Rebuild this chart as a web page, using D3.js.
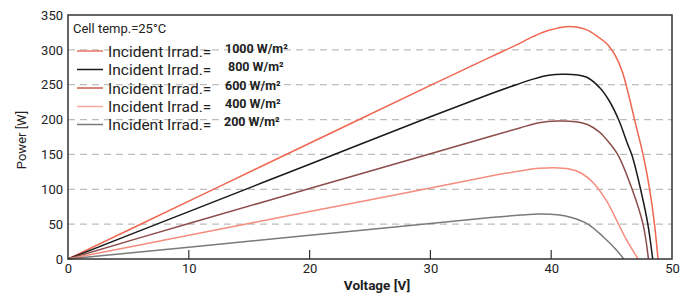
<!DOCTYPE html>
<html lang="en">
<head>
    <meta charset="UTF-8">
    <title>PV Power vs Voltage</title>
    <script src="https://d3js.org/d3.v7.min.js"></script>
    <style>
        body { margin: 0; background: #fff; }
        text { font-family: Roboto, "Liberation Sans", sans-serif; fill: #222; }
    </style>
</head>
<body>
    <div id="chart"></div>

    <script>
        // Irradiance levels and colours (legend order)
        var irradLabels = ["1000 W/m²", "800 W/m²", "600 W/m²", "400 W/m²", "200 W/m²"];
        var seriesColors = ["#f06650", "#1a1a1a", "#8c4c4a", "#f58c7e", "#7a7a7a"];
        var legendColors = ["#ea7560", "#1a1a1a", "#cc5c4c", "#f7a898", "#7a7a7a"];

        // Voltage [V] / Power [W]
        var v1000 = [0, 10, 20, 30, 35, 37, 38.5, 39.8, 41.3, 42.9, 44, 44.7, 45.3, 45.9, 46.4, 46.9, 47.6, 48.15, 48.55, 48.84];
        var p1000 = [0, 83, 166, 249, 290, 306, 319, 328, 333.3, 329, 317, 307, 292, 268, 236, 200, 150, 100, 50, 0];

        var v800 = [0, 10, 20, 30, 35, 37.1, 38.5, 39.8, 41, 42.9, 44, 44.8, 45.6, 46.3, 46.7, 47.4, 48.0, 48.4];
        var p800 = [0, 68, 136, 204, 237, 250, 258, 263.5, 265, 261, 246, 227, 199, 166, 148, 100, 50, 0];

        var v600 = [0, 10, 20, 30, 35, 37.4, 39, 40.5, 42, 43, 44, 44.6, 45.5, 46.7, 47.6, 48.05];
        var p600 = [0, 51, 101, 151, 176, 188, 195.5, 198, 197, 193, 182, 171, 150, 100, 50, 0];

        var v400 = [0, 10, 20, 30, 35, 37.5, 39, 40.2, 41.5, 42.5, 43.5, 44.6, 45.4, 46.25, 47.2];
        var p400 = [0, 34, 68, 102, 119, 126.5, 130, 131, 129, 123, 109, 83, 56, 27, 0];

        var v200 = [0, 10, 20, 30, 35, 37.5, 39, 40.5, 41.6, 43, 44.3, 45.4, 46];
        var p200 = [0, 17, 34, 51, 59.5, 63, 64.5, 63.5, 60, 50.5, 32, 13, 0];

        var xTicks = [0, 10, 20, 30, 40, 50];
        var yTicks = [0, 50, 100, 150, 200, 250, 300, 350];

        var series = [
            { v: v1000, p: p1000 },
            { v: v800, p: p800 },
            { v: v600, p: p600 },
            { v: v400, p: p400 },
            { v: v200, p: p200 }
        ];

        var W = 693, H = 294;
        var margin = { top: 15, right: 21, bottom: 35, left: 68 };
        var width = W - margin.left - margin.right;
        var height = H - margin.top - margin.bottom;

        var svg = d3.select("#chart")
            .append("svg")
            .attr("width", W)
            .attr("height", H);

        var x = d3.scaleLinear().domain([0, 50]).range([0, width]);
        var y = d3.scaleLinear().domain([0, 350]).range([height, 0]);

        var g = svg.append("g")
            .attr("transform", "translate(" + margin.left + "," + margin.top + ")");

        // dashed gridlines
        g.selectAll(".grid")
            .data(yTicks.filter(function(d) { return d > 0 && d < 350; }))
            .enter().append("line")
            .attr("x1", 0)
            .attr("x2", width)
            .attr("y1", function(d) { return y(d); })
            .attr("y2", function(d) { return y(d); })
            .attr("stroke", "#bdbdbd")
            .attr("stroke-width", 1.2)
            .attr("stroke-dasharray", "7,5");

        // curves
        var line = d3.line()
            .x(function(d) { return x(d[0]); })
            .y(function(d) { return y(d[1]); })
            .curve(d3.curveCatmullRom.alpha(0.5));

        series.forEach(function(s, i) {
            var pts = s.v.map(function(v, j) { return [v, s.p[j]]; });
            g.append("path")
                .datum(pts)
                .attr("d", line)
                .attr("fill", "none")
                .attr("stroke", seriesColors[i])
                .attr("stroke-width", 1.5);
        });

        // frame
        g.append("rect")
            .attr("x", 0)
            .attr("y", 0)
            .attr("width", width)
            .attr("height", height)
            .attr("fill", "none")
            .attr("stroke", "#333")
            .attr("stroke-width", 1.5);

        // x axis: inward ticks, labels below
        g.append("g")
            .attr("transform", "translate(0," + height + ")")
            .call(d3.axisBottom(x).tickValues(xTicks).tickSize(0).tickPadding(5))
            .call(function(a) { a.select(".domain").remove(); })
            .selectAll("text")
            .style("font-size", "13px")
            .style("font-family", "Roboto")
            .attr("fill", "#222");

        g.selectAll(".xtick")
            .data(xTicks.filter(function(d) { return d > 0 && d < 50; }))
            .enter().append("line")
            .attr("x1", function(d) { return x(d); })
            .attr("x2", function(d) { return x(d); })
            .attr("y1", height)
            .attr("y2", height - 9)
            .attr("stroke", "#333")
            .attr("stroke-width", 1.2);

        // y axis labels
        g.append("g")
            .call(d3.axisLeft(y).tickValues(yTicks).tickSize(0).tickPadding(5))
            .call(function(a) { a.select(".domain").remove(); })
            .selectAll("text")
            .style("font-size", "13px")
            .style("font-family", "Roboto")
            .attr("fill", "#222");

        // axis titles
        svg.append("text")
            .attr("x", margin.left + x(25) + 7)
            .attr("y", 290)
            .style("text-anchor", "middle")
            .style("font-size", "13.5px")
            .style("font-weight", "bold")
            .text("Voltage [V]");

        svg.append("text")
            .attr("transform", "translate(26,140) rotate(-90)")
            .style("text-anchor", "middle")
            .style("font-size", "13px")
            .text("Power [W]");

        // legend
        svg.append("text")
            .attr("x", 73)
            .attr("y", 33)
            .style("font-size", "13px")
            .text("Cell temp.=25°C");

        var rowY = [51, 69.5, 88, 106.5, 124.5];
        var labelDx = [0, 3, 0, 0, -1];

        irradLabels.forEach(function(lbl, i) {
            var row = svg.append("g")
                .attr("transform", "translate(0," + rowY[i] + ")");
            row.append("line")
                .attr("x1", 77)
                .attr("x2", 103)
                .attr("y1", 0)
                .attr("y2", 0)
                .attr("stroke", legendColors[i])
                .attr("stroke-width", 1.5);
            row.append("text")
                .attr("x", 108)
                .attr("y", 5.5)
                .style("font-size", "15.5px")
                .text("Incident Irrad.=");
            row.append("text")
                .attr("x", 225 + labelDx[i])
                .attr("y", 1.5)
                .style("font-size", "12.5px")
                .style("font-weight", "bold")
                .text(lbl);
        });
    </script>
</body>
</html>
